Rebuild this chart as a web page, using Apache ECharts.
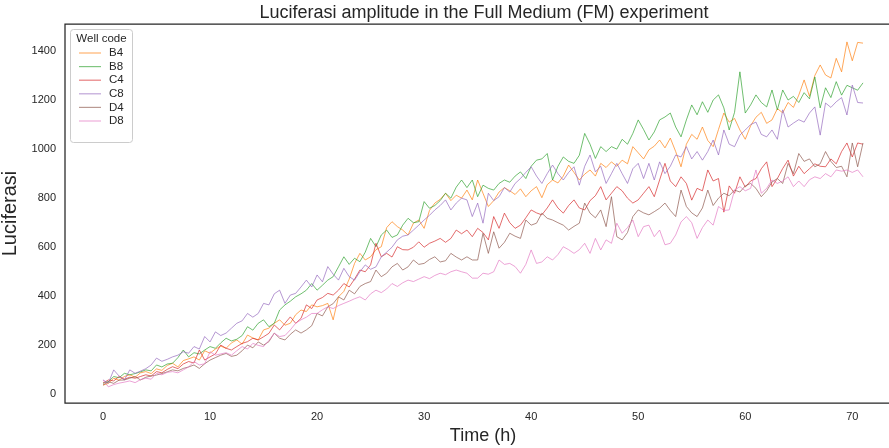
<!DOCTYPE html>
<html>
<head>
<meta charset="utf-8">
<script src="https://cdn.jsdelivr.net/npm/echarts@6/dist/echarts.min.js"></script>
<style>
html,body{margin:0;padding:0;background:#fff;}
#chart{width:889px;height:448px;}
</style>
</head>
<body>
<div id="chart"></div>
<script>
// sampling grid: one reading every half hour, 0 .. 71 h
const timeStep = 0.5;
const timeCount = 143;

const wellCodes = ['B4', 'B8', 'C4', 'C8', 'D4', 'D8'];

const B4 = [
  38,45,66,58,73,80,70,88,93,85,
  104,98,118,127,112,138,145,153,140,178,
  168,185,197,188,210,222,205,242,230,222,
  263,270,290,304,282,290,325,344,338,365,
  357,362,371,304,398,420,470,534,575,548,
  561,590,602,680,704,684,670,650,698,711,
  677,750,780,795,820,790,812,800,833,793,
  874,820,766,790,825,843,830,815,838,806,
  830,847,802,855,874,862,890,935,905,874,
  898,915,890,942,925,948,930,955,940,1010,
  985,960,997,1012,1037,1005,1045,990,928,1020,
  1060,1040,1090,1035,1010,1080,1147,1110,1125,1078,
  1040,1095,1130,1150,1105,1119,1165,1148,1190,1170,
  1220,1282,1215,1300,1343,1302,1290,1370,1315,1437,
  1360,1435,1432
];
const B8 = [
  46,52,73,68,86,80,85,92,100,96,
  120,112,124,127,150,181,153,170,165,181,
  195,188,210,229,218,225,240,276,262,290,
  304,276,290,344,365,380,398,410,425,452,
  425,445,466,480,520,561,530,555,541,580,
  636,602,650,670,640,650,690,718,700,704,
  786,759,770,790,820,800,845,874,843,874,
  806,853,840,833,860,874,865,890,907,880,
  930,955,960,982,874,930,968,950,942,975,
  1064,1020,962,1010,990,1010,1000,1040,1020,1064,
  1119,1080,1037,1070,1119,1131,1147,1090,1050,1119,
  1180,1140,1193,1150,1200,1221,1168,1078,1150,1315,
  1147,1180,1221,1190,1172,1241,1160,1241,1200,1215,
  1190,1230,1205,1294,1168,1250,1210,1275,1220,1260,
  1250,1240,1270
];
const C4 = [
  46,59,55,73,62,70,66,73,80,75,
  93,88,102,113,105,124,134,128,181,140,
  153,165,201,188,181,195,208,215,229,222,
  235,249,283,263,290,316,290,310,365,350,
  385,395,412,405,425,452,438,470,507,500,
  528,616,561,575,560,602,590,589,600,622,
  600,616,625,636,620,636,670,655,670,643,
  677,660,630,725,677,739,700,677,690,720,
  752,740,732,760,793,760,739,770,793,760,
  752,790,810,847,793,820,847,830,800,780,
  793,820,847,806,874,942,870,847,887,860,
  792,840,830,915,870,880,743,850,820,887,
  845,870,880,920,948,847,880,921,955,890,
  930,900,920,940,930,928,960,940,990,1025,
  968,1025,1020
];
const C8 = [
  59,46,100,75,59,100,86,95,105,120,
  148,135,143,153,160,174,168,195,185,236,
  214,255,240,250,270,290,300,330,315,330,
  371,365,410,425,371,405,412,438,466,438,
  487,459,521,490,466,514,480,466,500,528,
  510,520,561,580,600,630,645,650,670,690,
  711,730,752,770,793,752,780,800,793,725,
  780,698,820,790,806,843,825,860,880,905,
  928,890,860,900,935,900,874,905,928,853,
  930,976,907,930,860,900,942,900,860,920,
  942,880,942,874,948,900,930,976,968,1010,
  960,990,955,990,1037,976,1078,1020,1010,1057,
  1078,1100,1110,1060,1050,1078,1040,1160,1090,1106,
  1120,1110,1147,1172,1057,1188,1170,1193,1210,1139,
  1261,1190,1188
];
const D4 = [
  38,52,45,58,59,66,73,59,70,75,
  79,85,92,100,96,106,112,120,106,125,
  140,150,160,167,155,160,178,201,190,214,
  201,215,250,229,222,245,263,250,263,280,
  330,320,357,370,398,385,425,410,440,452,
  460,507,480,494,520,534,507,520,548,530,
  534,550,561,540,545,575,560,548,561,548,
  548,657,575,663,596,620,657,645,636,711,
  690,698,739,718,711,700,690,670,685,698,
  780,739,720,752,684,806,643,630,660,725,
  752,740,732,745,759,780,750,725,833,766,
  740,725,760,833,770,800,820,810,833,825,
  850,860,840,806,830,866,880,860,942,900,
  982,950,960,928,940,990,950,925,930,887,
  1025,928,1025
];
const D8 = [
  59,31,40,46,50,55,48,60,66,62,
  86,80,90,93,88,100,112,134,120,125,
  174,160,165,170,160,178,195,185,208,200,
  195,220,249,236,240,263,290,304,315,330,
  330,345,357,350,362,371,380,390,398,385,
  410,425,415,430,452,440,455,466,460,470,
  480,472,485,494,488,500,507,500,494,474,
  474,494,490,500,548,530,534,521,494,530,
  589,534,540,561,548,570,602,590,575,590,
  616,575,636,589,630,616,698,657,680,711,
  643,684,690,643,670,610,616,650,703,725,
  700,636,680,711,690,766,750,752,833,847,
  830,840,915,820,840,874,860,870,887,847,
  870,847,875,887,880,900,887,915,910,915,
  905,915,887
];

const xTicks = [0, 10, 20, 30, 40, 50, 60, 70];
const yTicks = [0, 200, 400, 600, 800, 1000, 1200, 1400];

const seriesValues = [B4, B8, C4, C8, D4, D8];
const colors = ['#ff7f0e', '#2ca02c', '#d62728', '#9467bd', '#8c564b', '#e377c2'];

const times = [];
for (let i = 0; i < timeCount; i++) times.push(i * timeStep);

const FONT = '"Liberation Sans", Arial, sans-serif';
const INK = '#262626';

const chart = echarts.init(document.getElementById('chart'), null, {renderer: 'canvas'});

const series = wellCodes.map((name, k) => ({
  name: name,
  type: 'line',
  data: times.map((t, i) => [t, seriesValues[k][i]]),
  symbol: 'none',
  showSymbol: false,
  smooth: false,
  lineStyle: {width: 1, color: colors[k], opacity: 0.68},
  itemStyle: {color: colors[k], opacity: 0.6},
  emphasis: {disabled: true},
  animation: false
}));

chart.setOption({
  animation: false,
  textStyle: {fontFamily: FONT},
  grid: {
    left: 65, top: 24, width: 836, height: 379,
    show: true, borderColor: INK, borderWidth: 1.25, backgroundColor: '#fff',
    containLabel: false, outerBoundsMode: 'none'
  },
  xAxis: {
    type: 'value', min: -3.55, max: 74.55,
    name: 'Time (h)', nameLocation: 'middle', nameGap: 23,
    nameTextStyle: {fontSize: 18, color: INK, fontFamily: FONT},
    axisLine: {show: false}, axisTick: {show: false}, splitLine: {show: false},
    axisLabel: {customValues: xTicks, color: INK, fontSize: 11, margin: 8, fontFamily: FONT,
      formatter: v => String(v)}
  },
  yAxis: {
    type: 'value', min: -35, max: 1510,
    name: 'Luciferasi', nameLocation: 'middle', nameGap: 40, nameRotate: 90,
    nameTextStyle: {fontSize: 20, color: INK, fontFamily: FONT},
    axisLine: {show: false}, axisTick: {show: false}, splitLine: {show: false},
    axisLabel: {customValues: yTicks, color: INK, fontSize: 11, margin: 9, fontFamily: FONT,
      formatter: v => String(v)}
  },
  legend: {
    data: wellCodes, orient: 'vertical', left: 79, top: 47, padding: 0,
    icon: 'path://M0,0L22,0L22,1.2L0,1.2Z',
    itemWidth: 22, itemHeight: 14, itemGap: 1.6,
    textStyle: {fontSize: 11.5, color: INK, fontFamily: FONT, padding: [0, 0, 0, 3]},
    selectedMode: false, z: 20
  },
  graphic: [
    {
      type: 'rect', z: 15,
      shape: {x: 70.5, y: 29.5, width: 62, height: 113, r: 3},
      style: {fill: 'rgba(255,255,255,0.8)', stroke: '#cccccc', lineWidth: 1}
    },
    {
      type: 'text', z: 16,
      style: {text: 'Well code', x: 101.5, y: 39, textAlign: 'center', textVerticalAlign: 'middle',
        font: '11.5px ' + FONT, fill: INK}
    },
    {
      type: 'text', z: 16,
      style: {text: 'Luciferasi amplitude in the Full Medium (FM) experiment', x: 484, y: 13,
        textAlign: 'center', textVerticalAlign: 'middle', font: '18px ' + FONT, fill: INK}
    }
  ],
  series: series
});
</script>
</body>
</html>
